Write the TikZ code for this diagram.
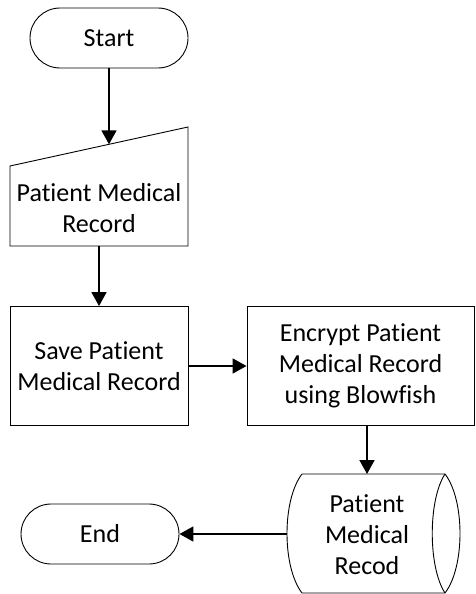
\documentclass[tikz,border=0pt]{standalone}
\usepackage{fontspec}
\setmainfont{Carlito}[Ligatures=NoCommon]
\usetikzlibrary{arrows.meta}
% keeps "t" and "i" as separate letters
\newcommand\tisep{t\kern0pt i}
\begin{document}
\begin{tikzpicture}[x=1pt,y=-1pt,
  shapeline/.style={draw=black,line width=0.9pt},
  flow/.style={line width=1.7pt,-{Triangle[length=14pt,width=15pt]}},
  txt/.style={align=center,font=\fontsize{26}{31}\selectfont,inner sep=0pt},
  terminal/.style={shapeline,rectangle,rounded corners=30pt,minimum width=158pt,minimum height=60pt,txt},
  process/.style={shapeline,rectangle,minimum width=178pt,minimum height=119pt,txt}]
\useasboundingbox (0,0) rectangle (475,594);

% Start terminal
\node[terminal] (start) at (109,38) {Start};

% Manual input
\coordinate (intl) at (10,166);
\coordinate (intr) at (188,127);
\coordinate (inbr) at (188,246);
\coordinate (inbl) at (10,246);
\draw[shapeline] (intl) -- (intr) -- (inbr) -- (inbl) -- cycle;
\node[txt] (inptxt) at (99,208) {Pa\tisep ent Medical\\Record};
\coordinate (intop) at (109,144.3);
\coordinate (inbot) at (99,246);

% Processes
\node[process] (save) at (99,366) {Save Pa\tisep ent\\Medical Record};
\node[process,minimum width=227pt] (enc) at (360.5,366) {Encrypt Pa\tisep ent\\Medical Record\\using Blowfish};

% Stored data
\coordinate (stl) at (302,474);
\coordinate (str) at (445,474);
\coordinate (sbl) at (302,593);
\coordinate (sbr) at (445,593);
\draw[shapeline] (stl) -- (str)
  .. controls (465,500) and (465,567) .. (sbr) -- (sbl)
  .. controls (282,567) and (282,500) .. (stl);
\draw[shapeline] (str) .. controls (428,500) and (428,567) .. (sbr);
\node[txt] (storetxt) at (367,535) {Pa\tisep ent\\Medical\\Recod};
\coordinate (sttop) at (367,474);
\coordinate (stleft) at (287,534);

% End terminal
\node[terminal] (stop) at (100,534) {End};

% Connectors
\draw[flow] (start.south) -- (intop);
\draw[flow] (inbot) -- (save.north);
\draw[flow] (save.east) -- (enc.west);
\draw[flow] (enc.south -| sttop) -- (sttop);
\draw[flow] (stleft) -- (stop.east);
\end{tikzpicture}
\end{document}
